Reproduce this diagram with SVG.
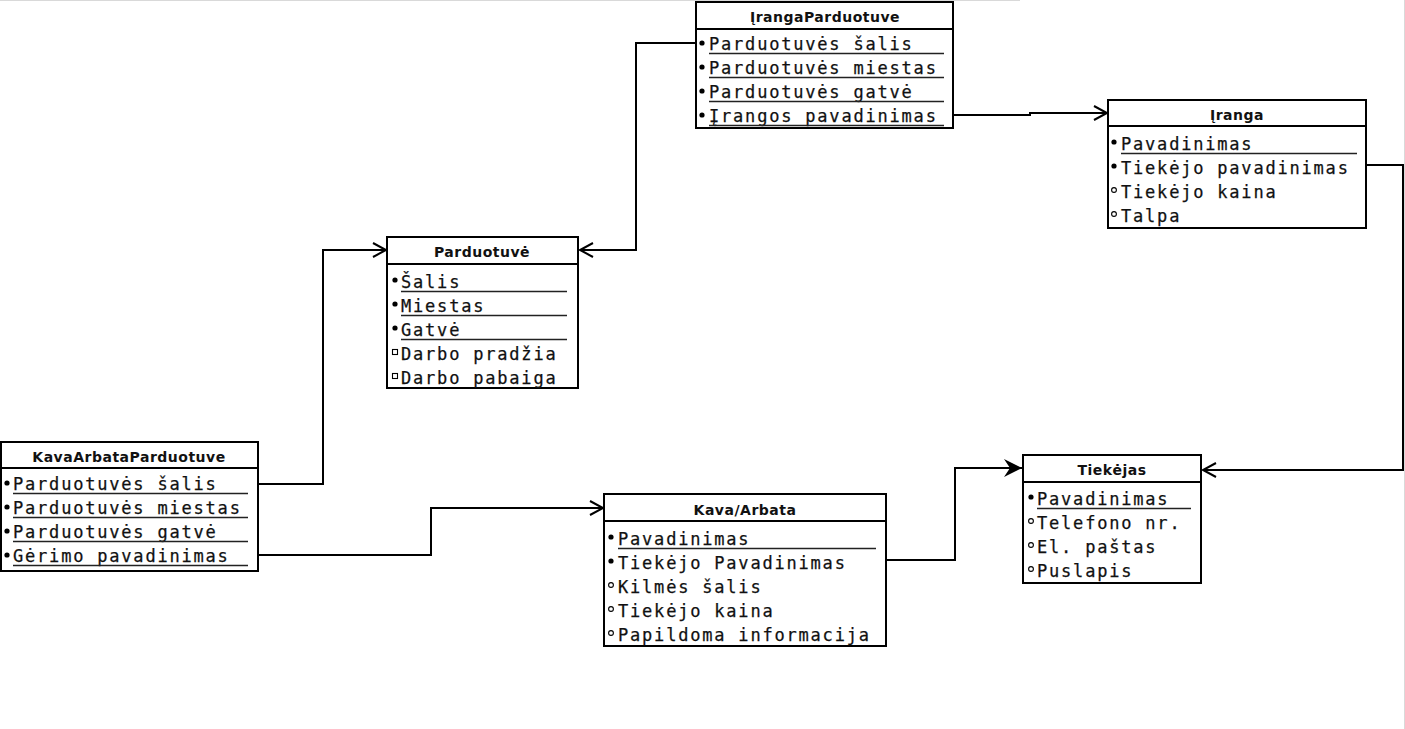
<svg xmlns="http://www.w3.org/2000/svg" width="1405" height="729" viewBox="0 0 1405 729">
  <style>
    .box { fill: #fff; stroke: #000; stroke-width: 2; }
    .sep { stroke: #000; stroke-width: 2; }
    .title { font-family: "DejaVu Sans", Verdana, sans-serif; font-weight: bold; font-size: 14px; letter-spacing: 0.5px; fill: #111; text-anchor: middle; }
    .attr { font-family: "DejaVu Sans Mono", "Liberation Mono", monospace; font-size: 17px; letter-spacing: 1.8px; fill: #111; stroke: #111; stroke-width: 0.25; }
    .ul { stroke: #222; stroke-width: 1.3; }
    .key { fill: #000; }
    .opt { fill: #fff; stroke: #000; stroke-width: 1.1; }
    .link { fill: none; stroke: #000; stroke-width: 2; }
    .edge { stroke: #d9d9d9; stroke-width: 1; }
  </style>
  <defs>
    <marker id="open" markerUnits="userSpaceOnUse" markerWidth="18" markerHeight="18" refX="15" refY="9" orient="auto">
      <path d="M2,2 L15,9 L2,16" fill="none" stroke="#000" stroke-width="2"/>
    </marker>
    <marker id="solid" markerUnits="userSpaceOnUse" markerWidth="22" markerHeight="22" refX="19" refY="11" orient="auto">
      <path d="M1,2 L19,11 L1,20 L7,11 Z" fill="#000"/>
    </marker>
  </defs>

  <rect x="0" y="0" width="1405" height="729" fill="#fff"/>
  <line class="edge" x1="0" y1="0.5" x2="1020" y2="0.5"/>
  <line class="edge" x1="1404.5" y1="0" x2="1404.5" y2="729"/>

  <!-- relationships -->
  <g id="connectors">
    <path class="link" d="M696,43 H636 V250 H580" marker-end="url(#open)"/>
    <path class="link" d="M953,115 H1030 V113 H1107" marker-end="url(#open)"/>
    <path class="link" d="M1366,165 H1403 V470 H1203" marker-end="url(#open)"/>
    <path class="link" d="M258,484 H323 V250 H386" marker-end="url(#open)"/>
    <path class="link" d="M258,555 H431 V508 H603" marker-end="url(#open)"/>
    <path class="link" d="M886,560 H955 V468 H1022" marker-end="url(#solid)"/>
  </g>

  <!-- IrangaParduotuve -->
  <g id="IrangaParduotuve">
    <rect class="box" x="696" y="2" width="257" height="126"/>
    <line class="sep" x1="696" y1="29" x2="953" y2="29"/>
    <text class="title" x="825" y="22">ĮrangaParduotuve</text>
    <circle class="key" cx="702" cy="43" r="2.6"/>
    <circle class="key" cx="702" cy="67" r="2.6"/>
    <circle class="key" cx="702" cy="91" r="2.6"/>
    <circle class="key" cx="702" cy="115" r="2.6"/>
    <text class="attr" x="709" y="50">Parduotuvės šalis</text>
    <text class="attr" x="709" y="74">Parduotuvės miestas</text>
    <text class="attr" x="709" y="98">Parduotuvės gatvė</text>
    <text class="attr" x="709" y="122">Įrangos pavadinimas</text>
    <line class="ul" x1="709" y1="53.5" x2="944" y2="53.5"/>
    <line class="ul" x1="709" y1="77.5" x2="944" y2="77.5"/>
    <line class="ul" x1="709" y1="101.5" x2="944" y2="101.5"/>
    <line class="ul" x1="709" y1="125.5" x2="944" y2="125.5"/>
  </g>

  <!-- Įranga -->
  <g id="Iranga">
    <rect class="box" x="1108" y="100" width="258" height="128"/>
    <line class="sep" x1="1108" y1="126" x2="1366" y2="126"/>
    <text class="title" x="1237" y="120">Įranga</text>
    <circle class="key" cx="1114" cy="142" r="2.6"/>
    <circle class="key" cx="1114" cy="166" r="2.6"/>
    <circle class="opt" cx="1114" cy="190" r="2.4"/>
    <circle class="opt" cx="1114" cy="214" r="2.4"/>
    <text class="attr" x="1121" y="150">Pavadinimas</text>
    <text class="attr" x="1121" y="174">Tiekėjo pavadinimas</text>
    <text class="attr" x="1121" y="198">Tiekėjo kaina</text>
    <text class="attr" x="1121" y="222">Talpa</text>
    <line class="ul" x1="1121" y1="153.5" x2="1357" y2="153.5"/>
  </g>

  <!-- Parduotuvė -->
  <g id="Parduotuve">
    <rect class="box" x="387" y="237" width="191" height="151"/>
    <line class="sep" x1="387" y1="264" x2="578" y2="264"/>
    <text class="title" x="482" y="257">Parduotuvė</text>
    <circle class="key" cx="395" cy="280" r="2.6"/>
    <circle class="key" cx="395" cy="304" r="2.6"/>
    <circle class="key" cx="395" cy="328" r="2.6"/>
    <rect class="opt" x="392.5" y="349.5" width="5" height="5"/>
    <rect class="opt" x="392.5" y="373.5" width="5" height="5"/>
    <text class="attr" x="401" y="288">Šalis</text>
    <text class="attr" x="401" y="312">Miestas</text>
    <text class="attr" x="401" y="336">Gatvė</text>
    <text class="attr" x="401" y="360">Darbo pradžia</text>
    <text class="attr" x="401" y="384">Darbo pabaiga</text>
    <line class="ul" x1="401" y1="291.5" x2="567" y2="291.5"/>
    <line class="ul" x1="401" y1="315.5" x2="567" y2="315.5"/>
    <line class="ul" x1="401" y1="339.5" x2="567" y2="339.5"/>
  </g>

  <!-- KavaArbataParduotuve -->
  <g id="KavaArbataParduotuve">
    <rect class="box" x="1" y="442" width="257" height="129"/>
    <line class="sep" x1="1" y1="468" x2="258" y2="468"/>
    <text class="title" x="129" y="462">KavaArbataParduotuve</text>
    <circle class="key" cx="7" cy="483" r="2.6"/>
    <circle class="key" cx="7" cy="507" r="2.6"/>
    <circle class="key" cx="7" cy="531" r="2.6"/>
    <circle class="key" cx="7" cy="555" r="2.6"/>
    <text class="attr" x="13" y="490">Parduotuvės šalis</text>
    <text class="attr" x="13" y="514">Parduotuvės miestas</text>
    <text class="attr" x="13" y="538">Parduotuvės gatvė</text>
    <text class="attr" x="13" y="562">Gėrimo pavadinimas</text>
    <line class="ul" x1="13" y1="493.5" x2="248" y2="493.5"/>
    <line class="ul" x1="13" y1="517.5" x2="248" y2="517.5"/>
    <line class="ul" x1="13" y1="541.5" x2="248" y2="541.5"/>
    <line class="ul" x1="13" y1="565.5" x2="248" y2="565.5"/>
  </g>

  <!-- Kava/Arbata -->
  <g id="KavaArbata">
    <rect class="box" x="604" y="494" width="282" height="152"/>
    <line class="sep" x1="604" y1="521" x2="886" y2="521"/>
    <text class="title" x="745" y="515">Kava/Arbata</text>
    <circle class="key" cx="611" cy="537" r="2.6"/>
    <circle class="key" cx="611" cy="561" r="2.6"/>
    <circle class="opt" cx="611" cy="585" r="2.4"/>
    <circle class="opt" cx="611" cy="609" r="2.4"/>
    <circle class="opt" cx="611" cy="633" r="2.4"/>
    <text class="attr" x="618" y="545">Pavadinimas</text>
    <text class="attr" x="618" y="569">Tiekėjo Pavadinimas</text>
    <text class="attr" x="618" y="593">Kilmės šalis</text>
    <text class="attr" x="618" y="617">Tiekėjo kaina</text>
    <text class="attr" x="618" y="641">Papildoma informacija</text>
    <line class="ul" x1="618" y1="548.5" x2="876" y2="548.5"/>
  </g>

  <!-- Tiekėjas -->
  <g id="Tiekejas">
    <rect class="box" x="1023" y="455" width="178" height="128"/>
    <line class="sep" x1="1023" y1="482" x2="1201" y2="482"/>
    <text class="title" x="1112" y="475">Tiekėjas</text>
    <circle class="key" cx="1031" cy="497" r="2.6"/>
    <circle class="opt" cx="1031" cy="521" r="2.4"/>
    <circle class="opt" cx="1031" cy="545" r="2.4"/>
    <circle class="opt" cx="1031" cy="569" r="2.4"/>
    <text class="attr" x="1037" y="505">Pavadinimas</text>
    <text class="attr" x="1037" y="529">Telefono nr.</text>
    <text class="attr" x="1037" y="553">El. paštas</text>
    <text class="attr" x="1037" y="577">Puslapis</text>
    <line class="ul" x1="1037" y1="508.5" x2="1191" y2="508.5"/>
  </g>
</svg>
